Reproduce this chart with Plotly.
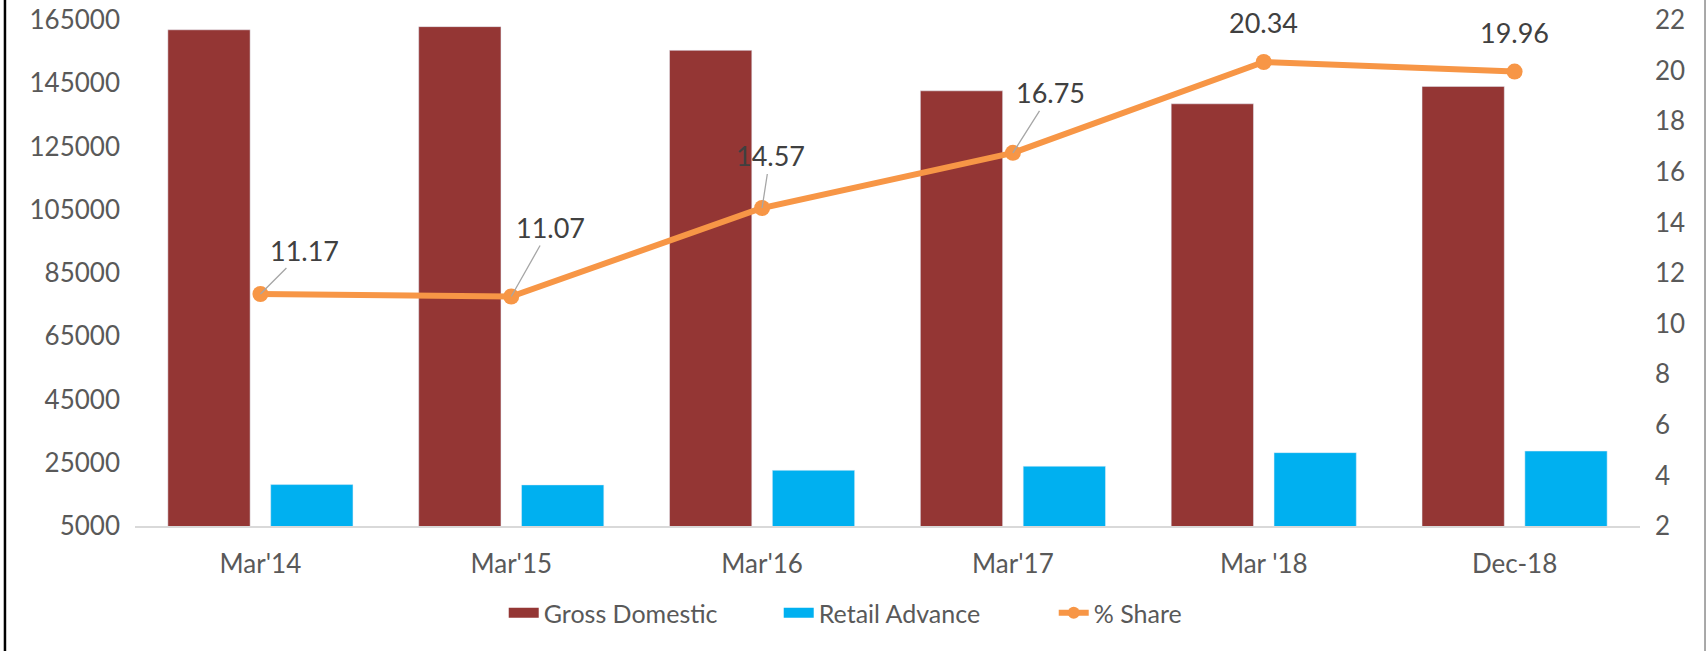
import plotly.graph_objects as go

# DATA -----------------------------------------------------------------------
periods = ["Mar'14", "Mar'15", "Mar'16", "Mar'17", "Mar '18", "Dec-18"]
gross_domestic = [161900, 162900, 155400, 142600, 138500, 144000]
retail_advance = [18100, 18000, 22600, 23900, 28200, 28700]
pct_share = [11.17, 11.07, 14.57, 16.75, 20.34, 19.96]

# label offsets (pixels) for the % share data labels
label_dx = [44, 39, 8, 38, 0, 0]
label_dy = [-44, -69, -52, -60, -40, -39]
leader = [True, True, True, True, False, False]

FONT = "Lato"
TXT = "#595959"
RED, BLUE, ORANGE = "#943634", "#00B0F0", "#F79646"

# FIGURE ---------------------------------------------------------------------
fig = go.Figure()
fig.add_bar(x=periods, y=gross_domestic, name="Gross Domestic",
            marker_color=RED, showlegend=False)
fig.add_bar(x=periods, y=retail_advance, name="Retail Advance",
            marker_color=BLUE, showlegend=False)
fig.add_scatter(x=periods, y=pct_share, name="% Share", yaxis="y2",
                mode="lines+markers", showlegend=False,
                line=dict(color=ORANGE, width=6),
                marker=dict(color=ORANGE, size=16))

# legend entries (wide swatches like the original)
fig.add_scatter(x=[None], y=[None], name="Gross Domestic", mode="lines",
                line=dict(color=RED, width=14))
fig.add_scatter(x=[None], y=[None], name="Retail Advance", mode="lines",
                line=dict(color=BLUE, width=14))
fig.add_scatter(x=[None], y=[None], name="% Share", mode="lines+markers",
                line=dict(color=ORANGE, width=6),
                marker=dict(color=ORANGE, size=12))

for p, v, dx, dy, arr in zip(periods, pct_share, label_dx, label_dy, leader):
    if arr:
        fig.add_annotation(x=p, y=v, xref="x", yref="y2", text=f"{v:.2f}",
                           showarrow=True, arrowhead=0, arrowwidth=1.3,
                           arrowcolor="#a6a6a6", ax=dx, ay=dy,
                           font=dict(family=FONT, size=27, color="#404040"))
    else:
        fig.add_annotation(x=p, y=v, xref="x", yref="y2", text=f"{v:.2f}",
                           showarrow=False, xshift=dx, yshift=-dy,
                           font=dict(family=FONT, size=27, color="#404040"))

# frame lines at the image edges
fig.add_shape(type="line", xref="paper", yref="paper",
              x0=-0.0864, x1=-0.0864, y0=-0.3, y1=1.1,
              line=dict(color="black", width=2.5))
fig.add_shape(type="line", xref="paper", yref="paper",
              x0=1.0432, x1=1.0432, y0=-0.3, y1=1.1,
              line=dict(color="#8c8c8c", width=1.5))

fig.update_layout(
    width=1707, height=651,
    margin=dict(l=135, r=67, t=20, b=125),
    plot_bgcolor="white", paper_bgcolor="white",
    barmode="group", bargap=0.18, bargroupgap=0.2,
    font=dict(family=FONT, size=26, color=TXT),
    showlegend=True,
    legend=dict(orientation="h", x=0.245, xanchor="left", y=-0.172,
                yanchor="middle", font=dict(size=25, color=TXT),
                traceorder="normal", entrywidth=230),
    xaxis=dict(showline=True, linecolor="#d9d9d9", linewidth=1.5,
               ticks="", showgrid=False, tickfont=dict(size=26),
               automargin=False, ticklabelstandoff=14),
    yaxis=dict(range=[5000, 165000], dtick=20000, tick0=5000,
               tickformat="d", automargin=False,
               showgrid=False, zeroline=False, showline=False,
               tickfont=dict(size=26), ticklabelstandoff=14),
    yaxis2=dict(range=[2, 22], dtick=2, tick0=2, overlaying="y",
                side="right", showgrid=False, zeroline=False,
                showline=False, tickfont=dict(size=26), automargin=False,
                ticklabelstandoff=14),
)

fig.write_html("out.html", config={"displayModeBar": False},
               post_script="document.body.style.margin='0';")
